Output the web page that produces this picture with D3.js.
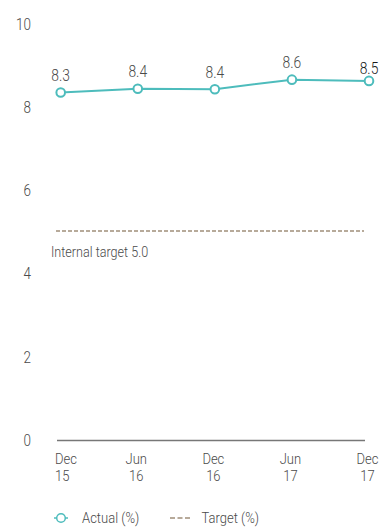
<!DOCTYPE html>
<html><head><meta charset="utf-8">
<script src="https://cdn.jsdelivr.net/npm/d3@7/dist/d3.min.js"></script>
<style>
body{margin:0;background:#fff;}
svg text{font-family:"Roboto","Liberation Sans",sans-serif;font-weight:300;}
</style></head>
<body><svg id="c" width="379" height="528"></svg>
<script>
const periods = [["Dec","15"],["Jun","16"],["Dec","16"],["Jun","17"],["Dec","17"]];
const actual = [8.36, 8.45, 8.44, 8.67, 8.64];
const actualLabels = ["8.3","8.4","8.4","8.6","8.5"];
const target = 5.0;
const targetLabel = "Internal target 5.0";
const yTicks = [0,2,4,6,8,10];
const legendItems = ["Actual (%)","Target (%)"];

const teal = "#4dbcbc", tan = "#a08e7a", txt = "#4a4a4a";
const SX = 0.84; // condensed look
const svg = d3.select("#c");
const x = d3.scalePoint().domain(d3.range(periods.length)).range([60.7, 369]);
const y = d3.scaleLinear().domain([0,10]).range([440.5, 24.3]);

function label(g, px, py, str, size, anchor, fill, weight){
  return g.append("text").attr("transform",`translate(${px},${py}) scale(${SX},1)`)
    .attr("text-anchor",anchor||"start").attr("dominant-baseline","central")
    .attr("font-size",size).attr("fill",fill||txt)
    .style("font-weight",weight||300).text(str);
}

// y tick labels
const gy = svg.append("g");
yTicks.forEach(t=>label(gy, 31, y(t), t, 16, "end"));

// baseline axis
svg.append("line").attr("x1",57).attr("x2",365).attr("y1",y(0)).attr("y2",y(0))
  .attr("stroke","#777").attr("stroke-width",1.5);

// target line
svg.append("line").attr("x1",56).attr("x2",364).attr("y1",y(target)-1.5).attr("y2",y(target)-1.5)
  .attr("stroke",tan).attr("stroke-width",1.5).attr("stroke-dasharray","4,2");
label(svg, 51, y(target)+19, targetLabel, 15);

// x labels
const gx = svg.append("g");
periods.forEach((p,i)=>{
  const px = i===0 ? 55 : x(i)-1.5;
  const a = i===0 ? "start" : "middle";
  label(gx, px, 459, p[0], 15.5, a);
  label(gx, px, 475.5, p[1], 15.5, a);
});

// actual line
svg.append("path").datum(actual)
  .attr("d", d3.line().x((d,i)=>x(i)).y(d=>y(d)))
  .attr("fill","none").attr("stroke",teal).attr("stroke-width",2);
svg.append("g").selectAll("circle").data(actual).join("circle")
  .attr("cx",(d,i)=>x(i)).attr("cy",d=>y(d)).attr("r",4.3)
  .attr("fill","#fff").attr("stroke",teal).attr("stroke-width",2);
const last = actual.length-1;
const gl = svg.append("g");
actual.forEach((d,i)=>label(gl, x(i), y(d)-(i===last?12:17), actualLabels[i], 16.5, "middle",
  i===last?"#1a1a1a":txt, 300));

// legend
const ly = 518;
svg.append("line").attr("x1",54).attr("x2",68).attr("y1",ly).attr("y2",ly).attr("stroke",teal).attr("stroke-width",1.5);
svg.append("circle").attr("cx",61).attr("cy",ly).attr("r",4.3).attr("fill","#fff").attr("stroke",teal).attr("stroke-width",1.5);
label(svg, 82, ly, legendItems[0], 15.5);
svg.append("line").attr("x1",170).attr("x2",190).attr("y1",ly).attr("y2",ly).attr("stroke",tan).attr("stroke-width",1.5).attr("stroke-dasharray","5,2.5");
label(svg, 201.5, ly, legendItems[1], 15.5);
</script></body></html>
